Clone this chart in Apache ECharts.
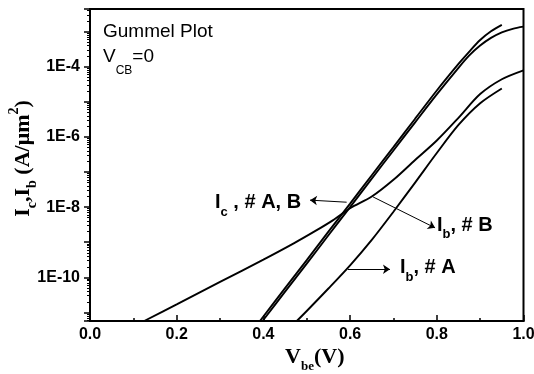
<!DOCTYPE html>
<html><head><meta charset="utf-8">
<script src="https://cdn.jsdelivr.net/npm/echarts@6/dist/echarts.min.js"></script>
<style>html,body{margin:0;padding:0;background:#fff}#c{width:534px;height:374px}</style>
</head><body><div id="c"></div>
<script>
// ---- data (V in volts, current in A/um^2) ----
const vIcA = [0.392, 0.45, 0.5, 0.55, 0.6, 0.65, 0.7, 0.75, 0.8, 0.85, 0.875, 0.9, 0.925, 0.95];
const icA  = [5.7e-12, 4.9e-11, 3.1e-10, 2.0e-9, 1.26e-8, 8.1e-8, 5.1e-7, 3.3e-6, 2.1e-5, 1.2e-4, 2.7e-4, 5.75e-4, 1.02e-3, 1.55e-3];

const vIcB = [0.398, 0.45, 0.5, 0.55, 0.6, 0.65, 0.7, 0.75, 0.8, 0.85, 0.875, 0.9, 0.925, 0.95, 0.975, 1.0];
const icB  = [5.7e-12, 3.9e-11, 2.45e-10, 1.58e-9, 1.0e-8, 6.5e-8, 4.1e-7, 2.6e-6, 1.62e-5, 9.3e-5, 2.1e-4, 4.0e-4, 6.6e-4, 9.5e-4, 1.2e-3, 1.38e-3];

const vIbB = [0.125, 0.2, 0.3, 0.4, 0.47, 0.52, 0.56, 0.6, 0.65, 0.7, 0.75, 0.8, 0.85, 0.9, 0.95, 1.0];
const ibB  = [5.7e-12, 1.7e-11, 7.4e-11, 3.2e-10, 9.3e-10, 2.1e-9, 4.2e-9, 9.3e-9, 2.0e-8, 6.0e-8, 2.2e-7, 7.9e-7, 3.5e-6, 1.66e-5, 4.4e-5, 7.9e-5];

const vIbA = [0.477, 0.5, 0.55, 0.6, 0.65, 0.7, 0.75, 0.8, 0.85, 0.9, 0.95];
const ibA  = [5.7e-12, 1.1e-11, 4.8e-11, 2.2e-10, 1.17e-9, 7.4e-9, 5.0e-8, 3.47e-7, 2.19e-6, 9.1e-6, 2.4e-5];

const xMin = 0, xMax = 1, xInterval = 0.2;
const yMin = 5.7e-12, yMax = 4.4e-3;
const yLabelValues = [1e-10, 1e-8, 1e-6, 1e-4];

// annotation arrows: [tailV, tailI, headV, headI]
const arrowIc  = [0.592, 1.38e-8, 0.5075, 1.58e-8];
const arrowIbB = [0.653, 1.95e-8, 0.796, 2.57e-9];
const arrowIbA = [0.595, 1.7e-10, 0.692, 1.7e-10];

// ---- build ----
function zip(a, b) { return a.map((v, i) => [v, b[i]]); }
const minorVals = [];
for (let e = -12; e <= -3; e++) for (let m = 2; m <= 9; m++) minorVals.push(Number((m * Math.pow(10, e)).toPrecision(3)));

const SANS = '"Liberation Sans", Arial, sans-serif';
const SERIF = '"Liberation Serif", "Times New Roman", serif';
const lineStyle = { color: '#000', width: 1.9 };
function arrow(a) { return [{ coord: [a[0], a[1]] }, { coord: [a[2], a[3]] }]; }

const chart = echarts.init(document.getElementById('c'), null, { renderer: 'canvas' });
const labRich = {
  m: { fontFamily: SANS, fontWeight: 'bold', fontSize: 20, lineHeight: 32, color: '#000' },
  s: { fontFamily: SANS, fontWeight: 'bold', fontSize: 13, lineHeight: 12, verticalAlign: 'bottom', color: '#000' }
};
chart.setOption({
  animation: false,
  backgroundColor: '#fff',
  grid: { left: 90, right: 10.5, top: 9, bottom: 53, show: true, borderColor: '#000', borderWidth: 2,
    containLabel: false, outerBoundsMode: 'none' },
  xAxis: {
    type: 'value', min: xMin, max: xMax, interval: xInterval,
    axisLine: { lineStyle: { color: '#000', width: 2 } },
    axisTick: { inside: true, length: 6, lineStyle: { color: '#000', width: 1.5 } },
    minorTick: { show: true, splitNumber: 2, length: 3, lineStyle: { color: '#000', width: 1.5 } },
    splitLine: { show: false },
    axisLabel: { formatter: v => v.toFixed(1), fontFamily: SANS, fontWeight: 'bold', fontSize: 16, color: '#000', margin: 6 },
    name: '{m|V}{s|be}{m|(V)}', nameLocation: 'middle', nameGap: 20, nameMoveOverlap: false,
    nameTextStyle: { padding: [0, 0, 0, 16], rich: {
      m: { fontFamily: SERIF, fontWeight: 'bold', fontSize: 22, lineHeight: 32, color: '#000' },
      s: { fontFamily: SERIF, fontWeight: 'bold', fontSize: 13, lineHeight: 12, verticalAlign: 'bottom', color: '#000' } } }
  },
  yAxis: [{
    type: 'log', logBase: 10, min: yMin, max: yMax,
    axisLine: { lineStyle: { color: '#000', width: 2 } },
    axisTick: { inside: false, length: 6, lineStyle: { color: '#000', width: 1.5 } },
    splitLine: { show: false },
    axisLabel: { customValues: yLabelValues, formatter: v => '1E' + Math.round(Math.log10(v)),
      fontFamily: SANS, fontWeight: 'bold', fontSize: 16, color: '#000', margin: 10 },
    name: '{m|I}{s|c}{m|,I}{s|b}{m| (A/μm}{p|2}{m|)}', nameLocation: 'middle', nameGap: 51, nameRotate: 90,
    nameMoveOverlap: false,
    nameTextStyle: { padding: [0, 0, 0, 13], rich: {
      m: { fontFamily: SERIF, fontWeight: 'bold', fontSize: 22, lineHeight: 32, color: '#000' },
      s: { fontFamily: SERIF, fontWeight: 'bold', fontSize: 14, lineHeight: 12, verticalAlign: 'bottom', color: '#000' },
      p: { fontFamily: SERIF, fontWeight: 'bold', fontSize: 14, lineHeight: 20, verticalAlign: 'top', color: '#000' } } }
  }, {
    type: 'log', logBase: 10, min: yMin, max: yMax, position: 'left',
    axisLine: { show: false }, axisLabel: { show: false }, splitLine: { show: false },
    axisTick: { show: true, inside: false, length: 3, customValues: minorVals, lineStyle: { color: '#000', width: 1 } }
  }],
  series: [
    { name: 'Ic A', type: 'line', data: zip(vIcA, icA), showSymbol: false, symbol: 'none', smooth: 0.3, lineStyle, silent: true },
    { name: 'Ic B', type: 'line', data: zip(vIcB, icB), showSymbol: false, symbol: 'none', smooth: 0.3, lineStyle, silent: true },
    { name: 'Ib B', type: 'line', data: zip(vIbB, ibB), showSymbol: false, symbol: 'none', smooth: 0.3, lineStyle, silent: true,
      markLine: { silent: true, symbol: ['none', 'arrow'], symbolSize: 7, label: { show: false },
        lineStyle: { color: '#000', width: 1, type: 'solid' },
        data: [arrow(arrowIc), arrow(arrowIbB), arrow(arrowIbA)] } },
    { name: 'Ib A', type: 'line', data: zip(vIbA, ibA), showSymbol: false, symbol: 'none', smooth: 0.3, lineStyle, silent: true }
  ],
  graphic: [
    { type: 'text', x: 103, y: 22, style: { text: 'Gummel Plot', font: '19px ' + SANS, fill: '#000' } },
    { type: 'text', x: 103, y: 36.5, style: { text: '{m|V}{s|CB}{m|=0}', rich: {
      m: { fontFamily: SANS, fontSize: 19, lineHeight: 40, color: '#000' },
      s: { fontFamily: SANS, fontSize: 12, lineHeight: 12, verticalAlign: 'bottom', color: '#000' } } } },
    { type: 'text', x: 215, y: 186.5, style: { text: '{m|I}{s|c}{m| , # A, B}', rich: labRich } },
    { type: 'text', x: 437, y: 209, style: { text: '{m|I}{s|b}{m|, # B}', rich: labRich } },
    { type: 'text', x: 400, y: 251.5, style: { text: '{m|I}{s|b}{m|, # A}', rich: labRich } }
  ]
});
</script></body></html>
